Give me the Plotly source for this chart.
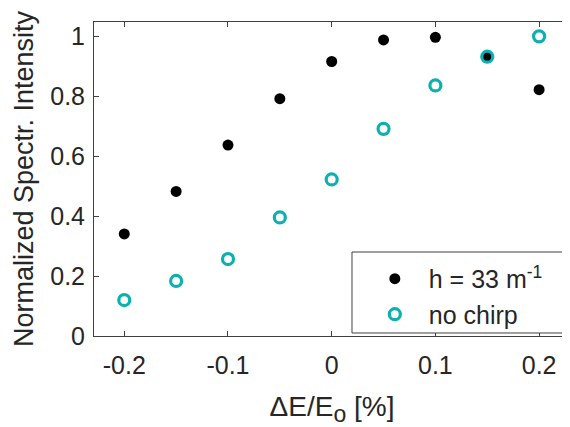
import plotly.graph_objects as go

dE = [-0.2, -0.15, -0.1, -0.05, 0.0, 0.05, 0.1, 0.15, 0.2]
chirp_h33 = [0.341, 0.483, 0.638, 0.793, 0.917, 0.989, 0.998, 0.935, 0.823]
no_chirp = [0.120, 0.184, 0.257, 0.396, 0.523, 0.692, 0.837, 0.933, 1.001]

x_ticks = [-0.2, -0.1, 0, 0.1, 0.2]
x_tick_labels = ["-0.2", "-0.1", "0", "0.1", "0.2"]
y_ticks = [0, 0.2, 0.4, 0.6, 0.8, 1]
y_tick_labels = ["0", "0.2", "0.4", "0.6", "0.8", "1"]

TEXT = "#262626"
TEAL = "#0BB0B0"
FONT = "Arial, Liberation Sans, sans-serif"
NB = "\u00a0\u00a0"

fig = go.Figure()
fig.add_trace(go.Scatter(
    x=dE, y=chirp_h33, mode="markers", name=NB + "h = 33 m<sup>-1</sup>",
    marker=dict(symbol="circle", size=11, color="black"),
))
fig.add_trace(go.Scatter(
    x=dE, y=no_chirp, mode="markers", name=NB + "no chirp",
    marker=dict(symbol="circle-open", size=11, color=TEAL, line=dict(width=3.2, color=TEAL)),
))

axis_common = dict(
    showline=True, linecolor="#404040", linewidth=1, mirror="ticks",
    ticks="inside", ticklen=5, tickcolor="#404040", tickwidth=1,
    showgrid=False, zeroline=False,
    tickfont=dict(family=FONT, size=25, color=TEXT),
)

# page body has an 8px margin, so the figure is sized/offset to compensate
fig.update_layout(
    width=562, height=419,
    margin=dict(l=86, r=0, t=14, b=91),
    paper_bgcolor="white", plot_bgcolor="white",
    showlegend=True,
    xaxis=dict(range=[-0.2292, 0.2298], tickvals=x_ticks, ticktext=x_tick_labels,
               ticklabelstandoff=7,
               title=dict(text="ΔE/E<sub><span style='font-size:23px'>o</span></sub> [%]",
                          font=dict(family=FONT, size=28, color=TEXT), standoff=18),
               **axis_common),
    yaxis=dict(range=[0, 1.049], tickvals=y_ticks, ticktext=y_tick_labels,
               ticklabelstandoff=3,
               title=dict(text="Normalized Spectr. Intensity", font=dict(family=FONT, size=27, color=TEXT), standoff=8),
               **axis_common),
    legend=dict(x=0.59, y=0.255, xanchor="left", yanchor="top",
                bgcolor="rgba(0,0,0,0)", borderwidth=0,
                font=dict(family=FONT, size=25, color=TEXT)),
    shapes=[dict(type="rect", xref="paper", yref="paper",
                 x0=0.542, x1=0.9895, y0=0.0096, y1=0.2675,
                 line=dict(color="#404040", width=1), fillcolor="white", layer="above")],
)

fig.write_html("out.html")
